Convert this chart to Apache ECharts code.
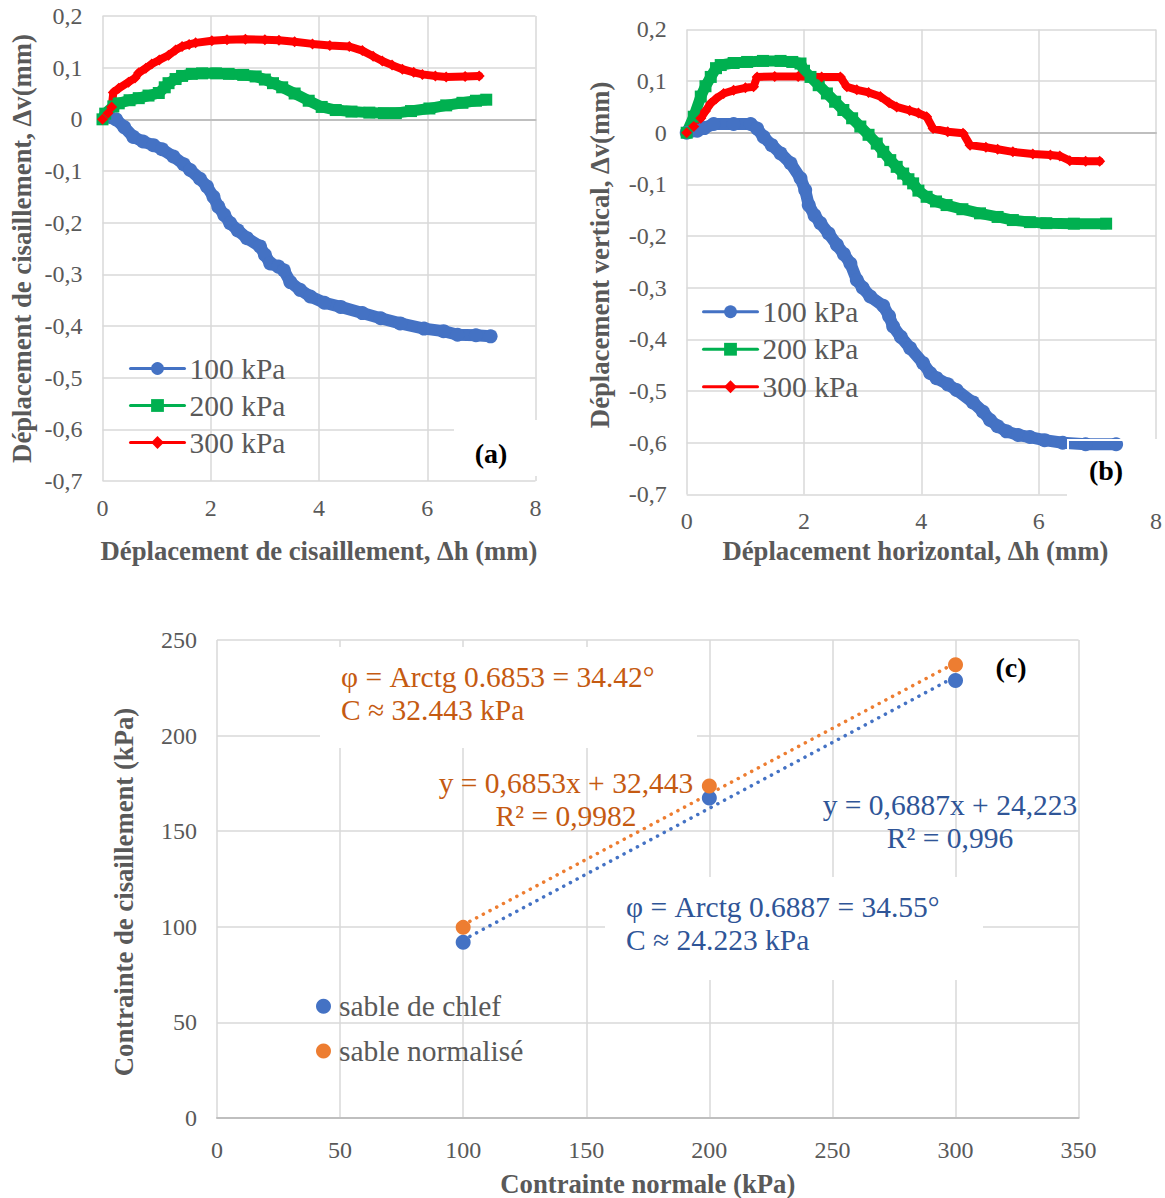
<!DOCTYPE html>
<html><head><meta charset="utf-8">
<script src="https://cdn.jsdelivr.net/npm/echarts@6/dist/echarts.min.js"></script>
<style>html,body{margin:0;padding:0;background:#fff}#c{width:1165px;height:1198px}</style>
</head><body><div id="c"></div>
<script>
const FONT = 'Liberation Serif, serif';

// ---- Chart (a): Δv vs Δh (cisaillement)
const a100 = [[0.05,0.005],[0.25,0.0],[0.4,-0.015],[0.57,-0.034],[0.75,-0.043],[0.94,-0.05],[1.1,-0.058],[1.31,-0.072],[1.5,-0.087],[1.62,-0.098],[1.8,-0.115],[1.93,-0.13],[2.05,-0.15],[2.14,-0.169],[2.25,-0.185],[2.36,-0.201],[2.5,-0.215],[2.67,-0.23],[2.91,-0.246],[3.0,-0.262],[3.1,-0.279],[3.25,-0.285],[3.35,-0.292],[3.47,-0.315],[3.65,-0.33],[3.84,-0.343],[4.1,-0.355],[4.4,-0.363],[4.8,-0.375],[5.14,-0.385],[5.5,-0.395],[5.94,-0.405],[6.3,-0.41],[6.56,-0.417],[6.9,-0.418],[7.17,-0.42]];
const a200 = [[0,0],[0.05,0.011],[0.2,0.025],[0.3,0.031],[0.5,0.037],[0.67,0.041],[0.85,0.046],[1.04,0.051],[1.15,0.062],[1.22,0.07],[1.35,0.078],[1.47,0.084],[1.65,0.088],[1.84,0.089],[2.1,0.089],[2.33,0.088],[2.6,0.086],[2.83,0.083],[3.0,0.077],[3.15,0.07],[3.32,0.062],[3.55,0.05],[3.81,0.036],[4.05,0.024],[4.31,0.018],[4.6,0.015],[4.93,0.013],[5.2,0.012],[5.42,0.012],[5.7,0.016],[6.04,0.021],[6.35,0.027],[6.65,0.032],[6.9,0.036],[7.09,0.038]];
const a300 = [[0,0],[0.1,0.012],[0.17,0.024],[0.2,0.052],[0.3,0.06],[0.48,0.072],[0.6,0.08],[0.67,0.09],[0.8,0.099],[0.91,0.107],[1.05,0.115],[1.22,0.124],[1.35,0.134],[1.47,0.141],[1.6,0.145],[1.72,0.148],[2.02,0.152],[2.3,0.154],[2.64,0.155],[3.0,0.154],[3.26,0.153],[3.55,0.15],[3.88,0.146],[4.2,0.143],[4.56,0.141],[4.8,0.133],[5.0,0.122],[5.17,0.113],[5.35,0.105],[5.54,0.097],[5.75,0.091],[5.91,0.087],[6.15,0.084],[6.35,0.082],[6.7,0.083],[6.96,0.084]];

// ---- Chart (b): Δv vs Δh (horizontal)
const b100 = [[0,0],[0.18,0.004],[0.3,0.009],[0.46,0.017],[0.8,0.017],[1.09,0.017],[1.2,0.008],[1.31,-0.008],[1.45,-0.024],[1.6,-0.04],[1.77,-0.059],[1.94,-0.088],[2.02,-0.111],[2.08,-0.14],[2.18,-0.16],[2.28,-0.175],[2.42,-0.195],[2.56,-0.217],[2.68,-0.235],[2.79,-0.253],[2.9,-0.285],[3.0,-0.3],[3.13,-0.317],[3.35,-0.335],[3.45,-0.355],[3.52,-0.375],[3.65,-0.395],[3.81,-0.417],[4.03,-0.446],[4.15,-0.465],[4.26,-0.475],[4.45,-0.487],[4.6,-0.498],[4.88,-0.522],[5.05,-0.54],[5.17,-0.556],[5.3,-0.568],[5.45,-0.578],[5.65,-0.585],[5.85,-0.589],[6.1,-0.595],[6.41,-0.6],[6.8,-0.603],[7.32,-0.603]];
const b200 = [[0,0],[0.12,0.031],[0.24,0.07],[0.32,0.09],[0.41,0.108],[0.5,0.125],[0.58,0.131],[0.8,0.135],[1.03,0.137],[1.3,0.139],[1.6,0.139],[1.8,0.137],[1.94,0.134],[2.0,0.12],[2.11,0.108],[2.25,0.092],[2.39,0.076],[2.53,0.06],[2.67,0.044],[2.82,0.028],[2.96,0.012],[3.1,-0.004],[3.24,-0.021],[3.35,-0.037],[3.47,-0.053],[3.58,-0.066],[3.69,-0.079],[3.78,-0.09],[3.86,-0.098],[3.95,-0.112],[4.09,-0.124],[4.25,-0.133],[4.43,-0.14],[4.7,-0.148],[5.0,-0.156],[5.3,-0.163],[5.56,-0.169],[5.85,-0.173],[6.13,-0.175],[6.6,-0.176],[7.15,-0.176]];
const b300 = [[0,0],[0.12,0.012],[0.24,0.028],[0.32,0.042],[0.41,0.057],[0.5,0.066],[0.63,0.076],[0.8,0.082],[1.0,0.087],[1.14,0.089],[1.2,0.108],[1.5,0.109],[1.9,0.109],[2.3,0.108],[2.62,0.108],[2.73,0.089],[2.9,0.083],[3.1,0.078],[3.3,0.07],[3.45,0.058],[3.58,0.05],[3.8,0.043],[3.95,0.038],[4.09,0.031],[4.2,0.008],[4.45,0.002],[4.71,-0.001],[4.83,-0.024],[5.1,-0.028],[5.3,-0.032],[5.56,-0.037],[5.9,-0.041],[6.2,-0.043],[6.36,-0.045],[6.53,-0.054],[6.8,-0.055],[7.04,-0.055]];

const seriesNamesAB = ['100 kPa','200 kPa','300 kPa'];

// ---- Chart (c): Mohr-Coulomb
const sigma = [100, 200, 300];
const tauChlef = [91.9, 167.4, 228.8];
const tauNorm = [99.7, 173.6, 237.1];
const fitChlef = {slope: 0.6887, intercept: 24.223};
const fitNorm = {slope: 0.6853, intercept: 32.443};
const seriesNamesC = ['sable de chlef', 'sable normalisé'];

const txtNorm = ['φ = Arctg 0.6853 = 34.42°', 'C ≈ 32.443 kPa'];
const eqNorm = ['y = 0,6853x + 32,443', 'R² = 0,9982'];
const eqChlef = ['y = 0,6887x + 24,223', 'R² = 0,996'];
const txtChlef = ['φ = Arctg 0.6887 = 34.55°', 'C ≈ 24.223 kPa'];

const GRAY = '#595959', GRID = '#D9D9D9', AXIS = '#BFBFBF';
const BLUE = '#4472C4', GREEN = '#00B050', RED = '#FF0000', ORANGE = '#ED7D31';
const ORANGE_T = '#C55A11', BLUE_T = '#2F5597';
const LBL = 24, TTL = 26.7, TXT = 29.5;

const fmtComma = v => Math.abs(v) < 1e-9 ? '0' : v.toFixed(1).replace('.', ',');

function labelX(gi, name, gap, max, interval, pad, margin) {
  return {type:'value', gridIndex:gi, min:0, max:max, interval:interval, position:'bottom',
    axisLine:{show:false, onZero:false}, axisTick:{show:false},
    axisLabel:{color:GRAY, fontFamily:FONT, fontSize:LBL, margin:margin||15},
    splitLine:{show:true, lineStyle:{color:GRID, width:1.5}},
    name:name, nameLocation:'middle', nameGap:gap,
    nameTextStyle:{color:GRAY, fontFamily:FONT, fontSize:TTL, fontWeight:'bold', padding:pad||0}};
}
function zeroX(gi, max) {
  return {type:'value', gridIndex:gi, min:0, max:max, position:'bottom',
    axisLine:{show:true, onZero:true, lineStyle:{color:AXIS, width:2}},
    axisTick:{show:false}, axisLabel:{show:false}, splitLine:{show:false}};
}
function valY(gi, name, gap, min, max, interval, fmt, pad) {
  return {type:'value', gridIndex:gi, min:min, max:max, interval:interval,
    axisLine:{show:false}, axisTick:{show:false},
    axisLabel:{color:GRAY, fontFamily:FONT, fontSize:LBL, margin:20, formatter:fmt},
    splitLine:{show:true, lineStyle:{color:GRID, width:1.5}},
    name:name, nameLocation:'middle', nameGap:gap, nameRotate:90,
    nameTextStyle:{color:GRAY, fontFamily:FONT, fontSize:TTL, fontWeight:'bold', padding:pad}};
}
function curve(name, data, xi, yi, color, sym, symSize, lw) {
  return {type:'line', name:name, data:data, xAxisIndex:xi, yAxisIndex:yi,
    symbol:sym, symbolSize:symSize, showSymbol:true, silent:true, animation:false, z:3,
    itemStyle:{color:color}, lineStyle:{color:color, width:lw, cap:'round', join:'round'}};
}
function trend(name, fit, color) {
  const x0 = sigma[0], x1 = sigma[sigma.length-1];
  return {type:'line', name:name, xAxisIndex:4, yAxisIndex:2, symbol:'none', silent:true, animation:false, z:3,
    data:[[x0, fit.slope*x0+fit.intercept],[x1, fit.slope*x1+fit.intercept]],
    lineStyle:{color:color, width:3.5, type:[0.1, 7.5], cap:'round'}};
}
function txt(x, y, s, color, align, size, bold) {
  return {type:'text', x:x, y:y, z:6, silent:true,
    style:{text:s, fill:color, fontFamily:FONT, fontSize:size||TXT, fontWeight:bold?'bold':'normal',
      align:align||'left', verticalAlign:'middle'}};
}
function box(x, y, w, h, z, fill) {
  return {type:'rect', z:z, silent:true, shape:{x:x, y:y, width:w, height:h},
    style:fill ? {fill:'#fff'} : {fill:'none', stroke:'#fff', lineWidth:2}};
}

const legendBase = {orient:'vertical', selectedMode:false, itemGap:0,
  textStyle:{color:GRAY, fontFamily:FONT, fontSize:TXT}};

const chart = echarts.init(document.getElementById('c'), null, {renderer:'svg'});
chart.setOption({
  animation:false,
  backgroundColor:'#fff',
  grid:[
    {left:102.5, top:16, width:433, height:465},
    {left:686.7, top:29.4, width:469.3, height:465},
    {left:217, top:640, width:861.6, height:484}
  ],
  xAxis:[
    labelX(0, 'Déplacement de cisaillement, Δh (mm)', 56, 8, 2),
    zeroX(0, 8),
    labelX(1, 'Déplacement horizontal, Δh (mm)', 43, 8, 2, [0,12,0,0]),
    zeroX(1, 8),
    Object.assign(labelX(2, 'Contrainte normale (kPa)', 52, 350, 50, 0, 20),
      {axisLine:{show:true, onZero:false, lineStyle:{color:AXIS, width:2}}})
  ],
  yAxis:[
    valY(0, 'Déplacement de cisaillement, Δv(mm)', 67, -0.7, 0.2, 0.1, fmtComma, [0,0,0,0]),
    valY(1, 'Déplacement vertical, Δv(mm)', 73, -0.7, 0.2, 0.1, fmtComma, [0,0,0,14]),
    valY(2, 'Contrainte de cisaillement (kPa)', 80, 0, 250, 50, v => String(v), [0,26,0,0])
  ],
  legend:[
    Object.assign({}, legendBase, {data:seriesNamesAB, left:125, top:350, itemWidth:54, itemHeight:16,
      padding:[0,4,0,4], lineStyle:{width:3}, textStyle:Object.assign({}, legendBase.textStyle, {lineHeight:37})}),
    Object.assign({}, legendBase, {data:seriesNamesAB, left:698, top:293, itemWidth:54, itemHeight:16,
      padding:[0,4,0,4], lineStyle:{width:3}, textStyle:Object.assign({}, legendBase.textStyle, {lineHeight:37.5})}),
    Object.assign({}, legendBase, {data:seriesNamesC, left:312, top:984, itemWidth:15, itemHeight:15,
      padding:[0,4,0,4], textStyle:Object.assign({}, legendBase.textStyle, {lineHeight:44.7, padding:[0,0,0,3]})})
  ],
  series:[
    curve(seriesNamesAB[0], a100, 0, 0, BLUE, 'circle', 14, 12),
    curve(seriesNamesAB[1], a200, 0, 0, GREEN, 'rect', 12, 11),
    curve(seriesNamesAB[2], a300, 0, 0, RED, 'diamond', 11, 8),
    curve(seriesNamesAB[0], b100, 2, 1, BLUE, 'circle', 14, 12),
    curve(seriesNamesAB[1], b200, 2, 1, GREEN, 'rect', 12, 11),
    curve(seriesNamesAB[2], b300, 2, 1, RED, 'diamond', 11, 8),
    trend('tendance chlef', fitChlef, BLUE),
    trend('tendance normalisé', fitNorm, ORANGE),
    {type:'scatter', name:seriesNamesC[0], xAxisIndex:4, yAxisIndex:2, symbol:'circle', symbolSize:15, silent:true, z:4,
      itemStyle:{color:BLUE, opacity:1}, data:sigma.map((s,i)=>[s, tauChlef[i]])},
    {type:'scatter', name:seriesNamesC[1], xAxisIndex:4, yAxisIndex:2, symbol:'circle', symbolSize:15, silent:true, z:4,
      itemStyle:{color:ORANGE, opacity:1}, data:sigma.map((s,i)=>[s, tauNorm[i]])}
  ],
  graphic:[
    box(454, 420, 88, 56, 1, true),
    box(1068, 440, 92, 58, 1, true),
    box(1068, 440, 92, 58, 10, false),
    box(320, 647, 377, 101, 1, true),
    box(605, 877, 378, 103, 1, true),
    txt(491, 453, '(a)', '#000', 'center', 28, true),
    txt(1106, 470, '(b)', '#000', 'center', 28, true),
    txt(1011, 667, '(c)', '#000', 'center', 28, true),
    txt(341, 677, txtNorm[0], ORANGE_T),
    txt(341, 710, txtNorm[1], ORANGE_T),
    txt(566, 783, eqNorm[0], ORANGE_T, 'center'),
    txt(566, 816, eqNorm[1], ORANGE_T, 'center'),
    txt(950, 805, eqChlef[0], BLUE_T, 'center'),
    txt(950, 838, eqChlef[1], BLUE_T, 'center'),
    txt(626, 907, txtChlef[0], BLUE_T),
    txt(626, 940, txtChlef[1], BLUE_T)
  ]
});
</script></body></html>
